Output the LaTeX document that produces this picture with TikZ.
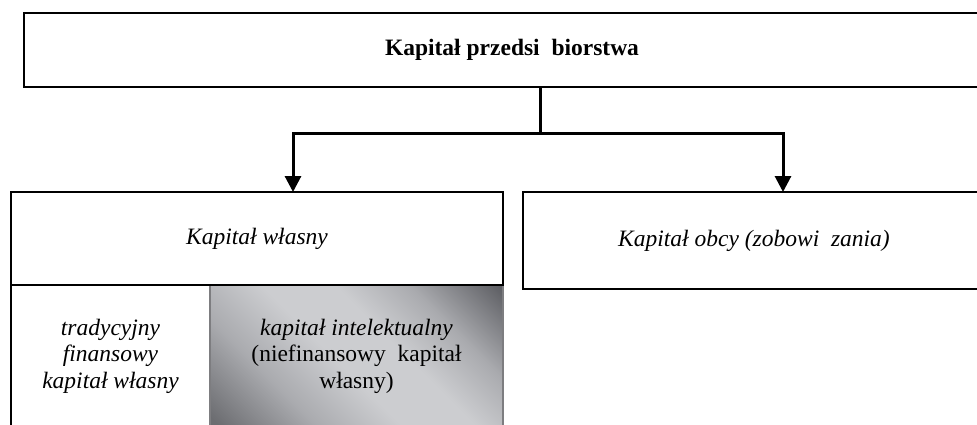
\documentclass[tikz,border=0pt]{standalone}
\usepackage{fontspec}
\setmainfont{Liberation Serif}
\usetikzlibrary{arrows.meta}
\definecolor{gdarkA}{RGB}{108,109,113}
\definecolor{gdarkB}{RGB}{88,89,94}
\definecolor{gmid}{RGB}{170,171,175}
\definecolor{glight}{RGB}{204,205,208}
\definecolor{gline}{RGB}{125,125,128}
\pgfdeclarehorizontalshading{gshade}{100bp}{color(0bp)=(gdarkA); color(16bp)=(gdarkA); color(32bp)=(gmid); color(46bp)=(glight); color(58bp)=(glight); color(70bp)=(gmid); color(86bp)=(gdarkB); color(100bp)=(gdarkB)}
\begin{document}
\begin{tikzpicture}[x=1pt,y=-1pt,
  box/.style={draw=black, line width=1.8pt, rectangle, inner sep=0pt, outer sep=0pt, align=center, font=\fontsize{23.5}{26.5}\selectfont},
  txt/.style={align=center, inner sep=0pt, font=\fontsize{23.5}{26.5}\selectfont},
  conn/.style={line width=3pt, line join=miter},
  arr/.style={-{Triangle[width=16pt,length=16pt]}}]
\useasboundingbox (0,0) rectangle (977,424);
\clip (0,0) rectangle (977,424);
% gradient cell
\coordinate (gtl) at (210,285);
\coordinate (gbr) at (503,426);
\shade[shading=gshade, shading angle=45] (gtl) rectangle (gbr);
\draw[gline, line width=1.5pt] (gtl) -- (gtl |- gbr);
\draw[gline, line width=1.5pt] (gbr |- gtl) -- (gbr);
% boxes
\node[box, minimum width=976pt, minimum height=74pt, font=\fontsize{23.5}{26.5}\selectfont\bfseries] (top) at (512,50) {Kapitał przedsi\ \ biorstwa};
\node[box, minimum width=492pt, minimum height=93pt] (left) at (257,238.5) {\itshape Kapitał własny};
\node[box, minimum width=462pt, minimum height=97pt] (right) at (754,240.5) {\itshape Kapitał obcy (zobowi\ \ zania)};
\draw[black, line width=1.8pt] (left.south west) -- (left.south west |- gbr);
% bottom texts
\node[txt, font=\fontsize{23.5}{26.5}\selectfont\itshape] (trad) at (110.5,356) {tradycyjny\\finansowy\\kapitał własny};
\node[txt] (intel) at (356.5,356) {\textit{kapitał intelektualny}\\(niefinansowy\ \ kapitał\\własny)};
% connectors
\coordinate (j) at (540,133);
\coordinate (lx) at (293,133);
\coordinate (rx) at (783,133);
\draw[conn] (top.south -| j) -- (j);
\draw[conn,arr] (j) -- (lx) -- (lx |- left.north);
\draw[conn,arr] (j) -- (rx) -- (rx |- right.north);
\end{tikzpicture}
\end{document}
